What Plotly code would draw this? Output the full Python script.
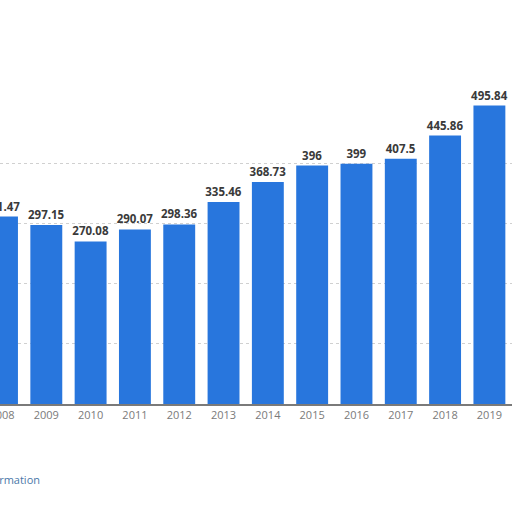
import plotly.graph_objects as go

# yearly values
years = [2008, 2009, 2010, 2011, 2012, 2013, 2014, 2015, 2016, 2017, 2018, 2019]
values = [311.47, 297.15, 270.08, 290.07, 298.36, 335.46, 368.73, 396, 399, 407.5, 445.86, 495.84]
year_labels = [str(y) for y in years]
value_labels = [f"{v:g}" for v in values]

fig = go.Figure(go.Bar(
    x=years,
    y=values,
    text=value_labels,
    textposition="outside",
    constraintext="none",
    cliponaxis=False,
    textfont=dict(family="Open Sans", size=11.5, color="#3a3a3a", weight="bold"),
    marker=dict(color="#2876dd", line=dict(width=0)),
    width=0.72,
))

fig.update_layout(
    width=512, height=512,
    margin=dict(l=0, r=0, t=103, b=108, autoexpand=False),
    paper_bgcolor="white",
    plot_bgcolor="white",
    showlegend=False,
    font=dict(family="Open Sans"),
    xaxis=dict(
        range=[2007.955, 2019.51],
        tickvals=years,
        ticktext=year_labels,
        tickfont=dict(size=11, color="#7a7a7a"),
        ticklabeloverflow="allow",
        showgrid=False,
        showline=True,
        linecolor="#7a7a7a",
        linewidth=2,
        ticks="",
    ),
    yaxis=dict(
        range=[0, 500],
        dtick=100,
        showticklabels=False,
        gridcolor="#d0d0d0",
        griddash="dot",
        gridwidth=1,
        zeroline=False,
    ),
)

fig.add_annotation(
    text="Additional Information",
    xref="paper", yref="paper",
    x=42 / 512, y=-76 / 301,
    xanchor="right", yanchor="middle",
    showarrow=False,
    font=dict(size=11, color="#4a78a8"),
)

# drop the page's default body margin so the figure sits at the window's corner
fig.write_html("out.html", config={"displayModeBar": False},
               post_script="document.body.style.margin='0';")
